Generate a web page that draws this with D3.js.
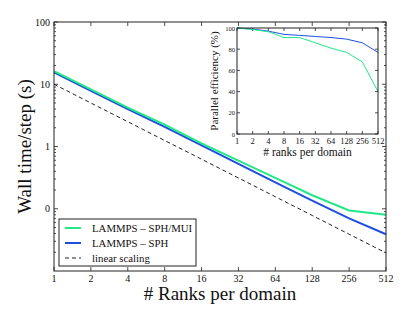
<!DOCTYPE html>
<html>
<head>
<meta charset="utf-8">
<script src="https://cdn.jsdelivr.net/npm/d3@7"></script>
<style>
  body { margin: 0; background: #fff; }
  text { font-family: "Liberation Serif", "DejaVu Serif", serif; fill: #111; }
</style>
</head>
<body>
<div id="chart"></div>
<script>
// ranks per domain
let ranks = [1, 2, 4, 8, 16, 32, 64, 128, 256, 512];
// wall time per step (s)
let timeMui = [16.3, 8.27, 4.22, 2.24, 1.12, 0.592, 0.314, 0.165, 0.094, 0.080];
let timeSph = [15.5, 7.83, 3.99, 2.06, 1.04, 0.527, 0.266, 0.135, 0.070, 0.039];
let timeLinear = [10, 5, 2.5, 1.25, 0.625, 0.3125, 0.156, 0.078, 0.039, 0.0195];
// parallel efficiency (%)
let effMui = [100, 98.5, 96.5, 91, 91, 86, 81, 77, 68, 40];
let effSph = [100, 99, 97, 94, 93, 92, 91, 89.5, 86, 77];
let yTicks = [0.1, 1, 10, 100];
let yTickLabels = ["0", "1", "10", "100"];
let effTicks = [0, 20, 40, 60, 80, 100];

let green = "#22e888", blue = "#1f4fe0";

let width = 415, height = 312;
let margin = {top: 22, bottom: 41, left: 54, right: 29};

let svg = d3.select("#chart")
            .append("svg")
            .attr("width", width)
            .attr("height", height);

let xscale = d3.scaleLog().base(2)
               .domain([1, 512])
               .range([margin.left, width - margin.right]);
let yscale = d3.scaleLog()
               .domain([0.01, 100])
               .range([height - margin.bottom, margin.top]);

// minor ticks for log y
let minor = [];
[0.01, 0.1, 1, 10].forEach(d => { for (let k = 2; k < 10; k++) minor.push(d * k); });

function inTicks(g, scale, orient, values, size) {
  g.selectAll("line").data(values).enter().append("line")
   .attr("stroke", "#222").attr("stroke-width", 0.8)
   .each(function(d) {
     let s = d3.select(this);
     if (orient == "bottom") s.attr("x1", scale(d)).attr("x2", scale(d)).attr("y1", 0).attr("y2", -size);
     if (orient == "top") s.attr("x1", scale(d)).attr("x2", scale(d)).attr("y1", 0).attr("y2", size);
     if (orient == "left") s.attr("y1", scale(d)).attr("y2", scale(d)).attr("x1", 0).attr("x2", size);
     if (orient == "right") s.attr("y1", scale(d)).attr("y2", scale(d)).attr("x1", 0).attr("x2", -size);
   });
}

let x0 = margin.left, x1 = width - margin.right;
let y0 = height - margin.bottom, y1 = margin.top;

inTicks(svg.append("g").attr("transform", `translate(0,${y0})`), xscale, "bottom", ranks, 4);
inTicks(svg.append("g").attr("transform", `translate(0,${y1})`), xscale, "top", ranks, 4);
inTicks(svg.append("g").attr("transform", `translate(${x0},0)`), yscale, "left", yTicks, 4);
inTicks(svg.append("g").attr("transform", `translate(${x1},0)`), yscale, "right", yTicks, 4);
inTicks(svg.append("g").attr("transform", `translate(${x0},0)`), yscale, "left", minor, 2);
inTicks(svg.append("g").attr("transform", `translate(${x1},0)`), yscale, "right", minor, 2);

svg.append("g").selectAll("text").data(ranks).enter().append("text")
   .text(d => d)
   .attr("x", d => xscale(d)).attr("y", y0 + 10.5)
   .attr("text-anchor", "middle").attr("font-size", 10);
svg.append("g").selectAll("text").data(yTicks).enter().append("text")
   .text((d, i) => yTickLabels[i])
   .attr("x", x0 - 4).attr("y", d => yscale(d) + 3.5)
   .attr("text-anchor", "end").attr("font-size", 10);

let line = d3.line().x((d, i) => xscale(ranks[i])).y(d => yscale(d));

svg.append("path").datum(timeLinear).attr("d", line)
   .attr("fill", "none").attr("stroke", "#222").attr("stroke-width", 1)
   .attr("stroke-dasharray", "4,3");
svg.append("path").datum(timeSph).attr("d", line)
   .attr("fill", "none").attr("stroke", blue).attr("stroke-width", 2);
svg.append("path").datum(timeMui).attr("d", line)
   .attr("fill", "none").attr("stroke", green).attr("stroke-width", 2);

svg.append("rect")
   .attr("x", x0).attr("y", y1).attr("width", x1 - x0).attr("height", y0 - y1)
   .attr("fill", "none").attr("stroke", "#222").attr("stroke-width", 1);

svg.append("text")
   .text("# Ranks per domain")
   .attr("x", (x0 + x1) / 2).attr("y", 300)
   .attr("text-anchor", "middle").attr("font-size", 19);
svg.append("text")
   .text("Wall time/step (s)")
   .attr("transform", `translate(31,${(y0 + y1) / 2}) rotate(-90)`)
   .attr("text-anchor", "middle").attr("font-size", 19);

// legend
let legend = svg.append("g");
legend.append("rect")
      .attr("x", 59).attr("y", 219).attr("width", 137).attr("height", 47)
      .attr("fill", "#fff").attr("stroke", "#222").attr("stroke-width", 1);
let legItems = [
  {label: "LAMMPS – SPH/MUI", color: green, dash: null, w: 2},
  {label: "LAMMPS – SPH", color: blue, dash: null, w: 2},
  {label: "linear scaling", color: "#222", dash: "4,3", w: 1}
];
legItems.forEach((d, i) => {
  let yy = 228 + i * 15;
  legend.append("line")
        .attr("x1", 65).attr("x2", 81).attr("y1", yy).attr("y2", yy)
        .attr("stroke", d.color).attr("stroke-width", d.w)
        .attr("stroke-dasharray", d.dash);
  legend.append("text").text(d.label)
        .attr("x", 92).attr("y", yy + 3.5).attr("font-size", 10.8);
});

// inset
let ix0 = 237, ix1 = 378, iy0 = 134, iy1 = 28;
let ixscale = d3.scaleLog().base(2).domain([1, 512]).range([ix0, ix1]);
let iyscale = d3.scaleLinear().domain([0, 100]).range([iy0, iy1]);

svg.append("rect")
   .attr("x", ix0).attr("y", iy1).attr("width", ix1 - ix0).attr("height", iy0 - iy1)
   .attr("fill", "#fff");

inTicks(svg.append("g").attr("transform", `translate(0,${iy0})`), ixscale, "bottom", ranks, 3);
inTicks(svg.append("g").attr("transform", `translate(0,${iy1})`), ixscale, "top", ranks, 3);
inTicks(svg.append("g").attr("transform", `translate(${ix0},0)`), iyscale, "left", effTicks, 3);
inTicks(svg.append("g").attr("transform", `translate(${ix1},0)`), iyscale, "right", effTicks, 3);

svg.append("g").selectAll("text").data(ranks).enter().append("text")
   .text(d => d)
   .attr("x", d => ixscale(d)).attr("y", iy0 + 10)
   .attr("text-anchor", "middle").attr("font-size", 8.5);
svg.append("g").selectAll("text").data(effTicks).enter().append("text")
   .text(d => d)
   .attr("x", ix0 - 2).attr("y", d => iyscale(d) + 2.5)
   .attr("text-anchor", "end").attr("font-size", 6.5);

let iline = d3.line().x((d, i) => ixscale(ranks[i])).y(d => iyscale(d));
svg.append("path").datum(effSph).attr("d", iline)
   .attr("fill", "none").attr("stroke", blue).attr("stroke-width", 1);
svg.append("path").datum(effMui).attr("d", iline)
   .attr("fill", "none").attr("stroke", green).attr("stroke-width", 1);

svg.append("rect")
   .attr("x", ix0).attr("y", iy1).attr("width", ix1 - ix0).attr("height", iy0 - iy1)
   .attr("fill", "none").attr("stroke", "#222").attr("stroke-width", 1);

svg.append("text")
   .text("# ranks per domain")
   .attr("x", (ix0 + ix1) / 2).attr("y", 156)
   .attr("text-anchor", "middle").attr("font-size", 11.5);
svg.append("text")
   .text("Parallel efficiency (%)")
   .attr("transform", `translate(218,${(iy0 + iy1) / 2}) rotate(-90)`)
   .attr("text-anchor", "middle").attr("font-size", 11);
</script>
</body>
</html>
